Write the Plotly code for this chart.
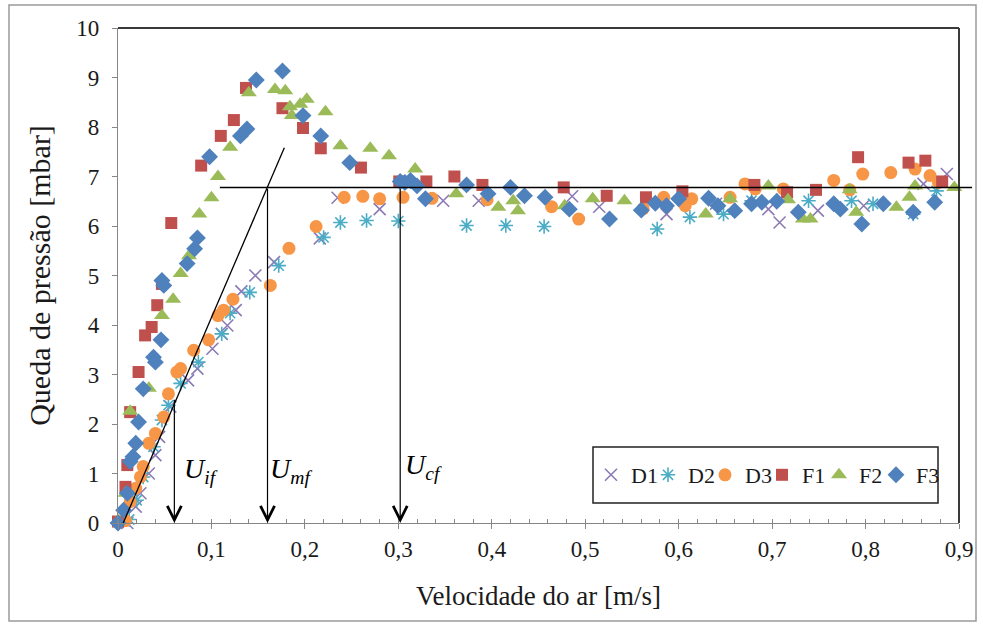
import plotly.graph_objects as go

# ---------------- data ----------------
d1_x = [0.010, 0.019, 0.024, 0.033, 0.040, 0.044, 0.056, 0.075, 0.085, 0.101, 0.111, 0.117, 0.126, 0.132,
        0.147, 0.167, 0.216, 0.235, 0.280, 0.348, 0.386, 0.486, 0.515, 0.587, 0.640, 0.696, 0.708, 0.749,
        0.798, 0.862, 0.887]
d1_y = [0.00, 0.33, 0.60, 1.00, 1.37, 1.74, 2.35, 2.88, 3.12, 3.52, 3.82, 3.99, 4.30, 4.68,
        5.00, 5.27, 5.75, 6.57, 6.34, 6.51, 6.51, 6.60, 6.39, 6.24, 6.45, 6.34, 6.07, 6.31,
        6.41, 6.85, 7.05]

d2_x = [0.012, 0.020, 0.027, 0.038, 0.047, 0.054, 0.067, 0.086, 0.111, 0.120, 0.141, 0.172, 0.220, 0.238,
        0.266, 0.300, 0.373, 0.415, 0.456, 0.577, 0.612, 0.648, 0.678, 0.739, 0.785, 0.808, 0.851, 0.876]
d2_y = [0.07, 0.46, 0.93, 1.54, 2.08, 2.38, 2.82, 3.25, 3.82, 4.24, 4.66, 5.20, 5.77, 6.07,
        6.11, 6.10, 6.01, 6.01, 5.99, 5.94, 6.18, 6.24, 6.51, 6.51, 6.51, 6.45, 6.24, 6.71]

d3_x = [0.008, 0.013, 0.019, 0.024, 0.027, 0.033, 0.040, 0.049, 0.054, 0.063, 0.067, 0.081, 0.097, 0.107,
        0.113, 0.123, 0.163, 0.183, 0.212, 0.242, 0.262, 0.280, 0.305, 0.336, 0.395, 0.464, 0.493, 0.562,
        0.584, 0.607, 0.614, 0.655, 0.671, 0.682, 0.712, 0.766, 0.783, 0.797, 0.827, 0.853, 0.869, 0.878]
d3_y = [0.05, 0.43, 0.70, 0.93, 1.14, 1.61, 1.81, 2.14, 2.61, 3.05, 3.12, 3.49, 3.70, 4.19,
        4.30, 4.52, 4.80, 5.55, 5.99, 6.58, 6.60, 6.55, 6.58, 6.56, 6.53, 6.39, 6.14, 6.35,
        6.58, 6.41, 6.55, 6.58, 6.85, 6.75, 6.75, 6.92, 6.73, 7.05, 7.08, 7.15, 7.02, 6.88]

f1_x = [0.000, 0.008, 0.010, 0.013, 0.022, 0.029, 0.036, 0.042, 0.047, 0.057, 0.089, 0.110, 0.124, 0.137,
        0.176, 0.198, 0.217, 0.260, 0.301, 0.330, 0.360, 0.390, 0.477, 0.523, 0.565, 0.604, 0.681, 0.716,
        0.747, 0.792, 0.846, 0.864, 0.882]
f1_y = [0.03, 0.73, 1.17, 2.24, 3.05, 3.79, 3.96, 4.40, 4.83, 6.06, 7.22, 7.82, 8.14, 8.79,
        8.38, 7.98, 7.57, 7.18, 6.90, 6.90, 7.00, 6.83, 6.78, 6.61, 6.58, 6.70, 6.83, 6.68,
        6.73, 7.39, 7.28, 7.32, 6.90]

f2_x = [0.000, 0.008, 0.013, 0.033, 0.047, 0.059, 0.067, 0.076, 0.087, 0.100, 0.107, 0.120, 0.140, 0.168,
        0.179, 0.184, 0.186, 0.195, 0.202, 0.222, 0.238, 0.270, 0.290, 0.318, 0.362, 0.407, 0.423, 0.428,
        0.478, 0.508, 0.542, 0.629, 0.655, 0.696, 0.717, 0.733, 0.741, 0.783, 0.790, 0.833, 0.847, 0.853,
        0.895]
f2_y = [0.05, 0.60, 2.26, 2.72, 4.19, 4.52, 5.04, 5.40, 6.24, 6.57, 7.00, 7.59, 8.69, 8.76,
        8.73, 8.41, 8.23, 8.46, 8.56, 8.31, 7.62, 7.57, 7.42, 7.15, 6.65, 6.38, 6.51, 6.31,
        6.41, 6.55, 6.51, 6.24, 6.55, 6.81, 6.53, 6.14, 6.14, 6.73, 6.28, 6.38, 6.58, 6.81,
        6.78]

f3_x = [0.000, 0.006, 0.010, 0.013, 0.016, 0.019, 0.022, 0.027, 0.038, 0.040, 0.046, 0.047, 0.049, 0.074,
        0.082, 0.085, 0.098, 0.131, 0.138, 0.148, 0.176, 0.198, 0.217, 0.248, 0.302, 0.307, 0.313, 0.320,
        0.329, 0.373, 0.396, 0.420, 0.435, 0.457, 0.483, 0.526, 0.560, 0.575, 0.587, 0.600, 0.632, 0.642,
        0.660, 0.678, 0.689, 0.705, 0.728, 0.766, 0.773, 0.796, 0.819, 0.851, 0.874, 0.901]
f3_y = [0.00, 0.26, 0.60, 1.24, 1.34, 1.61, 2.04, 2.71, 3.35, 3.25, 3.70, 4.90, 4.80, 5.24,
        5.54, 5.76, 7.40, 7.82, 7.96, 8.95, 9.13, 8.23, 7.82, 7.28, 6.90, 6.88, 6.92, 6.81,
        6.55, 6.83, 6.65, 6.78, 6.61, 6.58, 6.34, 6.14, 6.32, 6.46, 6.41, 6.55, 6.56, 6.41,
        6.31, 6.45, 6.48, 6.50, 6.28, 6.45, 6.34, 6.04, 6.45, 6.28, 6.48, 6.71]

series_names = ["D1", "D2", "D3", "F1", "F2", "F3"]

# construction lines
plateau_y = 6.78
plateau_x = [0.109, 0.914]
tangent_x = [0.004, 0.178]
tangent_y = [-0.07, 7.58]
u_if_x, u_if_top = 0.0603, 2.52
u_mf_x = 0.160
u_cf_x = 0.302
u_labels = ["U<sub>if</sub>", "U<sub>mf</sub>", "U<sub>cf</sub>"]
u_label_x = [0.0690, 0.1610, 0.305]
u_label_y = [1.07, 1.07, 1.15]

x_range = [0, 0.9]
y_range = [0, 10]

FONT = "Liberation Serif"
AXC = "#868686"
TXT = "#1a1a1a"

# plot area in pixels (for paper conversion of frame items)
L, R, T, B = 118, 959, 28, 523
W, H = R - L, B - T

fig = go.Figure()

styles = [
    dict(symbol="x-thin", size=12, color="rgba(0,0,0,0)", line=dict(color="#8C7AB5", width=1.6)),
    dict(symbol="asterisk", size=12, color="rgba(0,0,0,0)", line=dict(color="#4BACC6", width=1.6)),
    dict(symbol="circle", size=13, color="#F79646", line=dict(width=0)),
    dict(symbol="square", size=12, color="#C0504D", line=dict(width=0)),
    dict(symbol="triangle-up", size=14, color="#9BBB59", line=dict(width=0)),
    dict(symbol="diamond", size=13, color="#4F81BD", line=dict(width=0)),
]
xs = [d1_x, d2_x, d3_x, f1_x, f2_x, f3_x]
ys = [d1_y, d2_y, d3_y, f1_y, f2_y, f3_y]
for i, (name, x, y, st) in enumerate(zip(series_names, xs, ys, styles)):
    extra = dict(legendwidth=40) if i == len(series_names) - 1 else {}
    fig.add_trace(go.Scatter(x=x, y=y, mode="markers", name=name, marker=st, cliponaxis=False, **extra))


def px(v):  # data x -> paper
    return (v - x_range[0]) / (x_range[1] - x_range[0])


def py(v):
    return (v - y_range[0]) / (y_range[1] - y_range[0])


def ppx(p):  # pixel -> paper
    return (p - L) / W


def ppy(p):
    return (B - p) / H


shapes = [
    # plot frame top and right
    dict(type="line", xref="paper", yref="paper", x0=0, x1=1, y0=1, y1=1, line=dict(color="#3a3a3a", width=2)),
    dict(type="line", xref="paper", yref="paper", x0=1, x1=1, y0=0, y1=1, line=dict(color="#3a3a3a", width=2)),
    # plateau
    dict(type="line", xref="paper", yref="paper", x0=px(plateau_x[0]), x1=px(plateau_x[1]),
         y0=py(plateau_y), y1=py(plateau_y), line=dict(color="black", width=1.5)),
    # tangent
    dict(type="line", xref="x", yref="y", x0=tangent_x[0], x1=tangent_x[1], y0=tangent_y[0], y1=tangent_y[1],
         line=dict(color="black", width=1.3)),
    # outer border
    dict(type="rect", xref="paper", yref="paper", x0=ppx(9), x1=ppx(976), y0=ppy(621), y1=ppy(5),
         line=dict(color="#9a9a9a", width=1.5)),
    # legend box
    dict(type="rect", xref="paper", yref="paper", x0=ppx(593), x1=ppx(938), y0=ppy(503), y1=ppy(447),
         line=dict(color="#222", width=1.5)),
]

annotations = []
for ax_x, top in [(u_if_x, u_if_top), (u_mf_x, plateau_y), (u_cf_x, plateau_y)]:
    annotations.append(dict(x=ax_x, y=0, ax=ax_x, ay=top, xref="x", yref="y", axref="x", ayref="y",
                            text="", showarrow=True, arrowhead=5, arrowsize=2.3, arrowwidth=1.2,
                            arrowcolor="black"))
for t, lx, ly in zip(u_labels, u_label_x, u_label_y):
    annotations.append(dict(x=lx, y=ly, xref="x", yref="y", text="<i>" + t + "</i>", showarrow=False,
                            xanchor="left", yanchor="middle",
                            font=dict(family=FONT, size=28, color="black")))

fig.update_layout(
    width=983, height=630,
    margin=dict(l=L, r=983 - R, t=T, b=630 - B, autoexpand=False),
    paper_bgcolor="white", plot_bgcolor="white",
    separators=",.",
    font=dict(family=FONT, size=22, color=TXT),
    showlegend=True,
    legend=dict(orientation="h", x=ppx(591), y=ppy(475), xanchor="left", yanchor="middle",
                borderwidth=0, bgcolor="rgba(0,0,0,0)",
                font=dict(family=FONT, size=22, color=TXT), itemwidth=30,
                entrywidth=12, entrywidthmode="pixels", tracegroupgap=0),
    xaxis=dict(range=x_range, dtick=0.1, tick0=0, showgrid=False, zeroline=False,
               showline=True, linecolor=AXC, linewidth=1.2,
               ticks="outside", ticklen=5, tickcolor=AXC,
               minor=dict(ticks="inside", ticklen=4, dtick=0.02, tickcolor=AXC, showgrid=False),
               tickfont=dict(family=FONT, size=23, color=TXT),
               title=dict(text="Velocidade do ar [m/s]", font=dict(family=FONT, size=27, color=TXT),
                          standoff=25)),
    yaxis=dict(range=y_range, dtick=1, showgrid=False, zeroline=False,
               showline=True, linecolor=AXC, linewidth=1.2,
               ticks="outside", ticklen=5, tickcolor=AXC, ticklabelstandoff=8,
               tickfont=dict(family=FONT, size=23, color=TXT),
               title=dict(text="Queda de pressão [mbar]", font=dict(family=FONT, size=30, color=TXT),
                          standoff=16)),
    shapes=shapes,
    annotations=annotations,
)

fig.write_html("out.html")
